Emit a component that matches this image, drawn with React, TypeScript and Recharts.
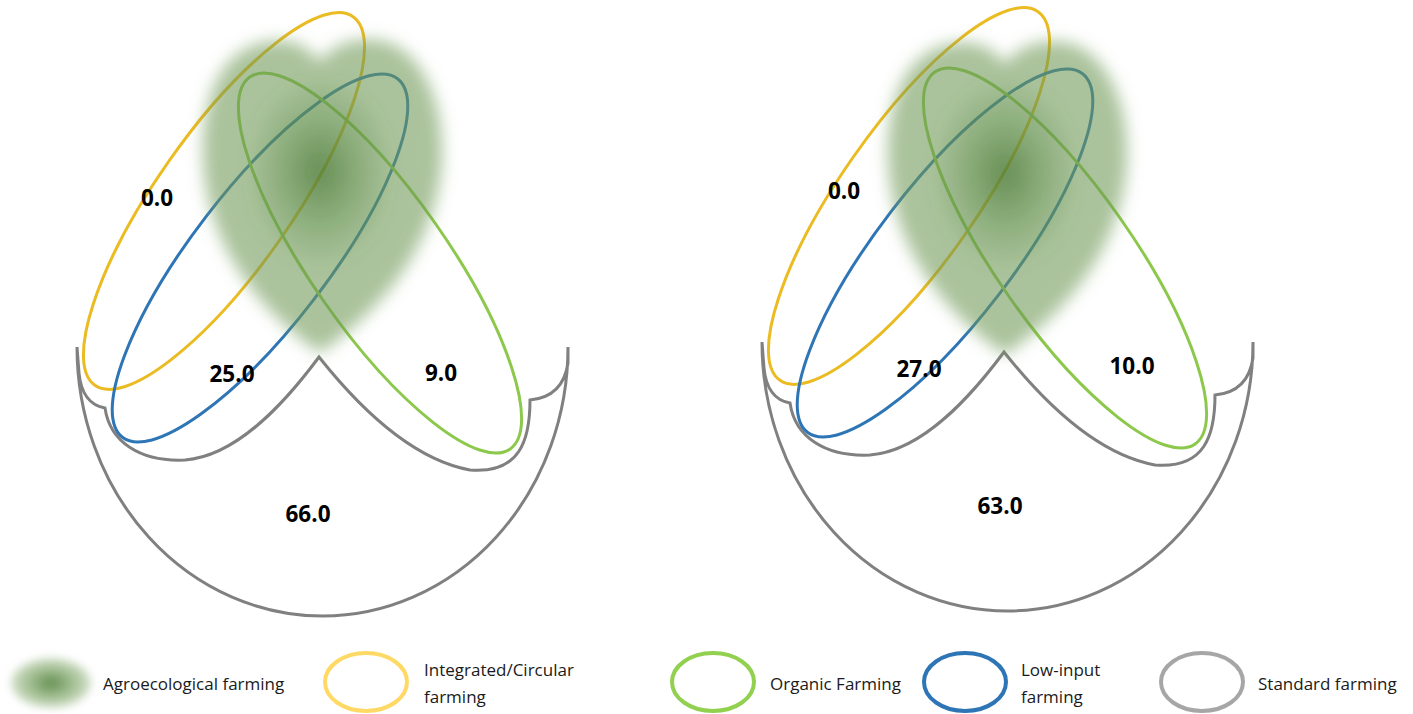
import React from "react";
import { ScatterChart, Scatter, XAxis, YAxis } from "recharts";

const W = 1413;
const H = 714;
const FONT = '"Open Sans", "Noto Sans", sans-serif';

// data
const CATEGORIES = ["Integrated/Circular farming", "Low-input farming", "Organic Farming", "Standard farming"];
const VALUES_LEFT = [0.0, 25.0, 9.0, 66.0];
const VALUES_RIGHT = [0.0, 27.0, 10.0, 63.0];
const LEGEND_NAMES = ["Agroecological farming", "Integrated/Circular farming", "Organic Farming", "Low-input farming", "Standard farming"];

// layout (left panel coordinates, right panel is shifted)
const PANEL_SHIFT = [{ dx: 0, dy: 0 }, { dx: 685, dy: -5 }];
const LABEL_POS = [
  [[157, 197], [232, 373], [441, 372], [308, 513]],
  [[844, 190], [919, 368], [1132, 365], [1000, 505]],
];

const RINGS = [
  { name: "Integrated/Circular farming", cx: 224, cy: 201, rx: 225, ry: 68, angle: -55, color: "#ebbb22" },
  { name: "Low-input farming", cx: 260, cy: 258, rx: 226, ry: 68, angle: -52.5, color: "#2e75b6" },
  { name: "Organic Farming", cx: 380, cy: 263, rx: 227, ry: 68, angle: 55, color: "#8cc84b" },
];

const GRAY_ANCHOR = { x: 319, y: 357 };
const GRAY_PATH =
  "M 77 347 A 245.5 269 0 0 0 322.5 616 A 245.5 269 0 0 0 568 347 " +
  "M 77 347 L 79 373 Q 82 404 105 408 C 110 442 140 462 185 460 C 240 456 290 396 319 357 " +
  "C 350 396 405 458 470 470 C 520 474 530 440 530 400 Q 563 397 568 363 L 568 347";

const HEART_ANCHOR = { x: 320, y: 200 };
const HEART_PATH =
  "M 320 62 C 305 42 285 38 265 42 C 225 50 203 90 203 150 C 203 230 245 300 320 353 " +
  "C 395 300 442 230 442 150 C 442 90 415 45 378 40 C 355 37 333 44 320 62 Z";

const grayData = PANEL_SHIFT.map((s) => ({ x: GRAY_ANCHOR.x + s.dx, y: GRAY_ANCHOR.y + s.dy }));
const heartData = PANEL_SHIFT.map((s, i) => ({ x: HEART_ANCHOR.x + s.dx, y: HEART_ANCHOR.y + (i ? 2 : 0), i }));
const ringData = (r: (typeof RINGS)[number]) => PANEL_SHIFT.map((s) => ({ x: r.cx + s.dx, y: r.cy + s.dy }));
const labelData = [VALUES_LEFT, VALUES_RIGHT].flatMap((vals, p) =>
  vals.map((v, k) => ({ x: LABEL_POS[p][k][0], y: LABEL_POS[p][k][1], value: v, category: CATEGORIES[k] }))
);

const GrayShape = (props: any) => (
  <path
    d={GRAY_PATH}
    transform={`translate(${props.cx - GRAY_ANCHOR.x} ${props.cy - GRAY_ANCHOR.y})`}
    fill="none"
    stroke="#808080"
    strokeWidth={3}
  />
);

const makeRing = (r: (typeof RINGS)[number]) => (props: any) => (
  <ellipse
    cx={props.cx}
    cy={props.cy}
    rx={r.rx}
    ry={r.ry}
    transform={`rotate(${r.angle} ${props.cx} ${props.cy})`}
    fill="none"
    stroke={r.color}
    strokeWidth={3}
  />
);

const HeartShape = (props: any) => (
  <g transform={`translate(${props.cx - HEART_ANCHOR.x} ${props.cy - HEART_ANCHOR.y})`}>
    {props.payload.i === 0 && (
      <defs>
        <radialGradient id="heartFill" cx="0.49" cy="0.42" r="0.32">
          <stop offset="0" stopColor="#4a7a35" stopOpacity={0.85} />
          <stop offset="0.5" stopColor="#5f8d48" stopOpacity={0.72} />
          <stop offset="1" stopColor="#6e9855" stopOpacity={0.58} />
        </radialGradient>
        <filter id="heartBlur" x="-20%" y="-20%" width="140%" height="140%">
          <feGaussianBlur stdDeviation={8} />
        </filter>
      </defs>
    )}
    <path d={HEART_PATH} fill="url(#heartFill)" filter="url(#heartBlur)" />
  </g>
);

const ValueLabel = (props: any) => (
  <text
    x={props.cx}
    y={props.cy}
    textAnchor="middle"
    dominantBaseline="central"
    fontFamily={FONT}
    fontWeight={700}
    fontSize={22.5}
    fill="#000"
  >
    {props.payload.value.toFixed(1)}
  </text>
);

const LEGEND_ICONS = [
  { kind: "blob", x: 51, color: "" },
  { kind: "ring", x: 366, color: "#ffd966" },
  { kind: "ring", x: 713, color: "#92d050" },
  { kind: "ring", x: 965, color: "#2e75b6" },
  { kind: "ring", x: 1202, color: "#a6a6a6" },
];
const LEGEND_TEXT = [
  { x: 103, w: 230 },
  { x: 424, w: 170 },
  { x: 770, w: 170 },
  { x: 1021, w: 95 },
  { x: 1258, w: 170 },
];

function LegendRow() {
  return (
    <div style={{ position: "absolute", left: 0, top: 640, width: W, height: 74 }}>
      <svg width={W} height={74} style={{ position: "absolute", left: 0, top: 0 }}>
        <defs>
          <radialGradient id="blobFill" cx="0.5" cy="0.5" r="0.5">
            <stop offset="0" stopColor="#4e7e37" stopOpacity={0.9} />
            <stop offset="0.6" stopColor="#77a05f" stopOpacity={0.65} />
            <stop offset="1" stopColor="#8fb07a" stopOpacity={0.4} />
          </radialGradient>
          <filter id="blobBlur" x="-30%" y="-30%" width="160%" height="160%">
            <feGaussianBlur stdDeviation={4} />
          </filter>
        </defs>
        {LEGEND_ICONS.map((ic, i) =>
          ic.kind === "blob" ? (
            <ellipse key={i} cx={ic.x} cy={43} rx={40} ry={25} fill="url(#blobFill)" filter="url(#blobBlur)" />
          ) : (
            <ellipse key={i} cx={ic.x} cy={42} rx={41} ry={29} fill="none" stroke={ic.color} strokeWidth={4} />
          )
        )}
      </svg>
      {LEGEND_NAMES.map((name, i) => (
        <div
          key={name}
          style={{
            position: "absolute",
            left: LEGEND_TEXT[i].x,
            top: 43,
            width: LEGEND_TEXT[i].w,
            transform: "translateY(-50%)",
            fontFamily: FONT,
            fontSize: 17,
            lineHeight: "27px",
            color: "#1a1a1a",
          }}
        >
          {name}
        </div>
      ))}
    </div>
  );
}

export default function App() {
  return (
    <div style={{ position: "absolute", left: 0, top: 0, width: W, height: H, background: "#fff" }}>
      <ScatterChart width={W} height={H} margin={{ top: 0, right: 0, bottom: 0, left: 0 }}>
        <XAxis type="number" dataKey="x" domain={[0, W]} allowDataOverflow hide />
        <YAxis type="number" dataKey="y" domain={[0, H]} allowDataOverflow reversed hide />
        <Scatter name="Standard farming" data={grayData} shape={GrayShape} isAnimationActive={false} />
        {RINGS.map((r) => (
          <Scatter key={r.name} name={r.name} data={ringData(r)} shape={makeRing(r)} isAnimationActive={false} />
        ))}
        <Scatter name="Agroecological farming" data={heartData} shape={HeartShape} isAnimationActive={false} />
        <Scatter name="values" data={labelData} shape={ValueLabel} isAnimationActive={false} />
      </ScatterChart>
      <LegendRow />
    </div>
  );
}
